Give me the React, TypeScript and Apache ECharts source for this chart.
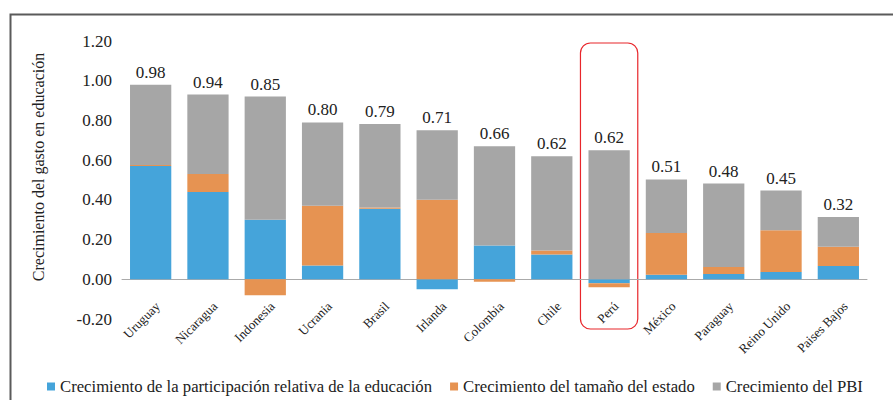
import React, { useEffect, useRef } from "react";
import * as echarts from "echarts";

const categories = ["Uruguay", "Nicaragua", "Indonesia", "Ucrania", "Brasil", "Irlanda", "Colombia", "Chile", "Perú", "México", "Paraguay", "Reino Unido", "Paises Bajos"];
const educacion = [0.57, 0.44, 0.30, 0.07, 0.355, -0.05, 0.17, 0.125, -0.02, 0.023, 0.027, 0.037, 0.067];
const estado = [0.005, 0.09, -0.08, 0.30, 0.007, 0.40, -0.012, 0.02, -0.02, 0.21, 0.035, 0.21, 0.097];
const pbi = [0.405, 0.40, 0.62, 0.42, 0.42, 0.35, 0.50, 0.475, 0.65, 0.27, 0.42, 0.20, 0.15];
const totals = [0.98, 0.94, 0.85, 0.80, 0.79, 0.71, 0.66, 0.62, 0.62, 0.51, 0.48, 0.45, 0.32];
const seriesNames = [
  "Crecimiento de la participación relativa de la educación",
  "Crecimiento del tamaño del estado",
  "Crecimiento del PBI",
];
const highlighted = "Perú";

const FONT = "Liberation Serif";

export default function App() {
  const ref = useRef<HTMLDivElement>(null);
  useEffect(() => {
    if (!ref.current) return;
    const chart = echarts.init(ref.current, null, { renderer: "svg" });
    const gridLeft = 122;
    const gridRight = 26;
    const option: any = {
      animation: false,
      backgroundColor: "#ffffff",
      textStyle: { fontFamily: FONT },
      grid: { left: gridLeft, right: gridRight, top: 41, bottom: 81, containLabel: false, outerBoundsMode: "none" },
      legend: {
        left: 42,
        top: 373,
        itemWidth: 8,
        itemHeight: 8,
        itemGap: 18,
        icon: "rect",
        textStyle: { fontFamily: FONT, fontSize: 16.7, color: "#222" },
        data: seriesNames,
      },
      xAxis: {
        type: "category",
        data: categories,
        axisLine: { show: true, onZero: true, lineStyle: { color: "#aaaaaa", width: 1 } },
        axisTick: { show: false },
        axisLabel: {
          rotate: 45,
          interval: 0,
          fontFamily: FONT,
          fontSize: 13,
          color: "#222",
          margin: -8,
          padding: [0, -10, 0, 0],
        },
      },
      yAxis: {
        type: "value",
        min: -0.2,
        max: 1.2,
        interval: 0.2,
        name: "Crecimiento del gasto en educación",
        nameLocation: "middle",
        nameGap: 76,
        nameTextStyle: { fontFamily: FONT, fontSize: 16, color: "#222", padding: [0, 0, 0, 26] },
        axisLine: { show: false },
        axisTick: { show: false },
        splitLine: { show: false },
        axisLabel: {
          fontFamily: FONT,
          fontSize: 17,
          color: "#222",
          margin: 10,
          formatter: (v: number) => v.toFixed(2),
        },
      },
      series: [
        {
          name: seriesNames[0],
          type: "bar",
          stack: "total",
          barCategoryGap: "28%",
          itemStyle: { color: "#45A4DA" },
          data: educacion,
        },
        {
          name: seriesNames[1],
          type: "bar",
          stack: "total",
          itemStyle: { color: "#E69352" },
          data: estado,
        },
        {
          name: seriesNames[2],
          type: "bar",
          stack: "total",
          itemStyle: { color: "#A6A6A6" },
          data: pbi,
          label: {
            show: true,
            position: "top",
            distance: 4,
            fontFamily: FONT,
            fontSize: 17,
            color: "#222",
            formatter: (p: any) => totals[p.dataIndex].toFixed(2),
          },
        },
      ],
    };
    chart.setOption(option);

    const idx = categories.indexOf(highlighted);
    const cx = chart.convertToPixel({ xAxisIndex: 0 }, idx) as number;
    const band = (893 - gridLeft - gridRight) / categories.length;
    chart.setOption({
      graphic: [
        {
          type: "rect",
          left: 8,
          top: 12,
          shape: { x: 0, y: 0, width: 1000, height: 1000 },
          style: { fill: "none", stroke: "#5a5a5a", lineWidth: 2 },
          silent: true,
        },
        {
          type: "rect",
          shape: { x: cx - band / 2, y: 43, width: band, height: 286, r: 10 },
          style: { fill: "none", stroke: "#E8262B", lineWidth: 1.2 },
          silent: true,
        },
      ],
    });
    return () => chart.dispose();
  }, []);
  return <div ref={ref} style={{ position: "fixed", left: 0, top: 0, width: 893, height: 400 }} />;
}
